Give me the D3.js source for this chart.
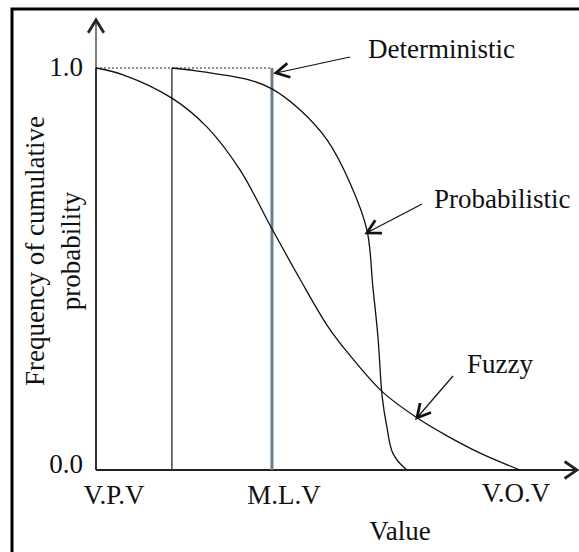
<!DOCTYPE html>
<meta charset="utf-8">
<style>
	body { margin: 0; background: white; }
	text {
		font-family: "Liberation Serif", "Times New Roman", serif;
		font-size: 27px;
		fill: #111;
	}
</style>
<html>
<body>
<script src="https://d3js.org/d3.v7.min.js"></script>
<script>
	var width = 579;
	var height = 552;

	// x runs from V.P.V (0) to V.O.V (100), y is cumulative frequency
	var xTickLabels = ["V.P.V", "M.L.V", "V.O.V"];
	var xTickValues = [0, 41.5, 100];
	var yTickValues = [0, 1];
	var yTickLabels = ["0.0", "1.0"];

	var probStart = 17.9;     // lower bound of the probabilistic curve
	var deterministic = 41.5; // most likely value

	var fuzzyX = [0, 6.4, 17.9, 26.2, 34.0, 41.5, 48.1, 54.5, 59.9, 67.5, 75.7, 82.8, 90.6, 100];
	var fuzzyY = [1.0, 0.983, 0.925, 0.853, 0.746, 0.600, 0.475, 0.36, 0.285, 0.195, 0.13, 0.085, 0.042, 0];

	var probX = [17.9, 22.2, 36.3, 41.5, 48.1, 54.5, 59.9, 63.9, 65.3, 66.5, 67.5, 68.6, 70.0, 72.9, 73.6];
	var probY = [1.0, 0.995, 0.970, 0.948, 0.896, 0.821, 0.714, 0.597, 0.455, 0.331, 0.182, 0.107, 0.042, 0.004, 0];

	var x = d3.scaleLinear().domain([0, 100]).range([96, 520]);
	var y = d3.scaleLinear().domain([0, 1]).range([470, 68]);

	var svg = d3.select("body").append("svg")
		.attr("width", width)
		.attr("height", height);

	// frame
	svg.append("rect")
		.attr("x", 12).attr("y", 9)
		.attr("width", 600).attr("height", 600)
		.attr("fill", "none")
		.attr("stroke", "#000")
		.attr("stroke-width", 3);

	// chevron arrow head at (tx,ty) pointing along angle
	function chevron(tx, ty, ang, len, spread) {
		var a1 = ang + Math.PI - spread, a2 = ang + Math.PI + spread;
		return "M" + (tx + len * Math.cos(a1)) + "," + (ty + len * Math.sin(a1)) +
			"L" + tx + "," + ty +
			"L" + (tx + len * Math.cos(a2)) + "," + (ty + len * Math.sin(a2));
	}

	// y axis
	svg.append("line")
		.attr("x1", x(0)).attr("x2", x(0))
		.attr("y1", y(0)).attr("y2", 20)
		.attr("stroke", "#808080").attr("stroke-width", 2);
	svg.append("line")
		.attr("x1", x(0)).attr("x2", x(0))
		.attr("y1", y(0)).attr("y2", y(1))
		.attr("stroke", "#333").attr("stroke-width", 2);
	svg.append("path")
		.attr("d", chevron(x(0), 20, -Math.PI / 2, 15, 0.55))
		.attr("fill", "none").attr("stroke", "#222").attr("stroke-width", 2.8);

	// x axis
	svg.append("line")
		.attr("x1", x(0)).attr("x2", 577)
		.attr("y1", y(0)).attr("y2", y(0))
		.attr("stroke", "#222").attr("stroke-width", 2);
	svg.append("path")
		.attr("d", chevron(577, y(0), 0, 15, 0.6))
		.attr("fill", "none").attr("stroke", "#222").attr("stroke-width", 2.8);

	// tick labels
	svg.selectAll("text.ytick")
		.data(yTickValues)
		.enter().append("text")
		.attr("class", "ytick")
		.attr("x", 83)
		.attr("y", function(d, i) { return y(d) + (i == 0 ? 3 : 8); })
		.attr("text-anchor", "end")
		.text(function(d, i) { return yTickLabels[i]; });

	var xOffsets = [18, 12, -4];
	svg.selectAll("text.xtick")
		.data(xTickValues)
		.enter().append("text")
		.attr("class", "xtick")
		.attr("x", function(d, i) { return x(d) + xOffsets[i]; })
		.attr("y", function(d, i) { return i == 2 ? 502 : 504; })
		.attr("text-anchor", "middle")
		.text(function(d, i) { return xTickLabels[i]; });

	svg.append("text")
		.attr("x", 400).attr("y", 540)
		.attr("text-anchor", "middle")
		.text("Value");

	var ylab = svg.append("text")
		.attr("transform", "translate(0,251) rotate(-90)")
		.attr("text-anchor", "middle");
	ylab.append("tspan").attr("x", 0).attr("y", 44).text("Frequency of cumulative");
	ylab.append("tspan").attr("x", 0).attr("y", 80).text("probability");

	// dotted line at 1.0
	svg.append("line")
		.attr("x1", x(0)).attr("x2", x(deterministic))
		.attr("y1", y(1)).attr("y2", y(1))
		.attr("stroke", "#222").attr("stroke-width", 1)
		.attr("stroke-dasharray", "2,2");

	// lower bound of the probabilistic
	svg.append("line")
		.attr("x1", x(probStart)).attr("x2", x(probStart))
		.attr("y1", y(0)).attr("y2", y(1))
		.attr("stroke", "#444").attr("stroke-width", 1.5);

	// deterministic
	svg.append("line")
		.attr("x1", x(deterministic)).attr("x2", x(deterministic))
		.attr("y1", y(0)).attr("y2", y(1))
		.attr("stroke", "#6a7f8d").attr("stroke-width", 3);

	var line = d3.line()
		.x(function(d) { return x(d[0]); })
		.y(function(d) { return y(d[1]); })
		.curve(d3.curveCatmullRom.alpha(0.5));

	svg.append("path")
		.datum(d3.zip(fuzzyX, fuzzyY))
		.attr("d", line)
		.attr("fill", "none").attr("stroke", "#111").attr("stroke-width", 1.3);

	svg.append("path")
		.datum(d3.zip(probX, probY))
		.attr("d", line)
		.attr("fill", "none").attr("stroke", "#111").attr("stroke-width", 1.3);

	// annotations
	var notes = [
		{label: "Deterministic", tx: 368, ty: 58, from: [350, 57], to: [x(deterministic) + 4, y(1) + 5]},
		{label: "Probabilistic", tx: 434, ty: 208, from: [422, 204], to: [x(63.9), y(0.59)]},
		{label: "Fuzzy", tx: 467, ty: 373, from: [453, 376], to: [x(75.7), y(0.13)]}
	];

	notes.forEach(function(n) {
		svg.append("line")
			.attr("x1", n.from[0]).attr("y1", n.from[1])
			.attr("x2", n.to[0]).attr("y2", n.to[1])
			.attr("stroke", "#111").attr("stroke-width", 1.2);
		var ang = Math.atan2(n.to[1] - n.from[1], n.to[0] - n.from[0]);
		svg.append("path")
			.attr("d", chevron(n.to[0], n.to[1], ang, 15, 0.5))
			.attr("fill", "none").attr("stroke", "#111").attr("stroke-width", 2.8);
		svg.append("text")
			.attr("x", n.tx).attr("y", n.ty)
			.text(n.label);
	});
</script>
</body>
</html>
